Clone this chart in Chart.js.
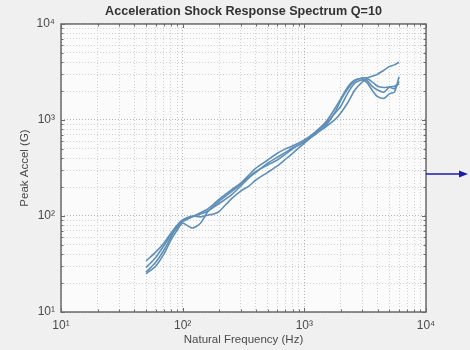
<!DOCTYPE html>
<html>
<head>
<meta charset="utf-8">
<script src="https://cdn.jsdelivr.net/npm/chart.js@4.4.1/dist/chart.umd.min.js"></script>
<style>
  html, body { margin: 0; padding: 0; background: #f0f0f0; }
</style>
</head>
<body>
<canvas id="myChart" width="470" height="350"></canvas>
<script>
// natural frequencies (Hz)
const freqs = [50, 60, 70, 80, 90, 100, 120, 140, 160, 180, 200, 250, 300, 350, 400, 500, 600, 700, 800,
  1000, 1200, 1500, 1800, 2000, 2300, 2600, 3000, 3300, 3600, 4000, 4500, 5000, 5500, 6000];

// peak accel (G) for each record
const resp1 = [34, 42, 52, 66, 80, 91, 98, 105, 112, 124, 135, 165, 205, 250, 285, 355, 410, 460, 510,
  590, 690, 870, 1230, 1620, 2150, 2550, 2750, 2750, 2850, 3000, 3300, 3600, 3750, 4000];
const resp2 = [25, 30, 40, 56, 71, 84, 75, 84, 110, 127, 143, 178, 215, 255, 292, 340, 383, 440, 500,
  600, 720, 910, 1190, 1400, 1950, 2420, 2610, 2420, 2050, 1750, 1680, 1870, 1950, 2820];
const resp3 = [26, 33, 44, 60, 78, 91, 100, 98, 102, 105, 112, 150, 182, 205, 237, 285, 332, 390, 450,
  575, 700, 850, 1020, 1190, 1550, 2050, 2500, 2680, 2500, 2250, 2180, 2200, 2120, 2500];
const resp4 = [29, 37, 49, 63, 75, 87, 98, 108, 118, 133, 150, 186, 220, 267, 315, 383, 450, 500, 535,
  620, 730, 950, 1340, 1680, 2250, 2610, 2680, 2550, 2250, 2050, 1950, 2200, 2250, 2380];

const sup = {1: '\u00b9', 2: '\u00b2', 3: '\u00b3', 4: '\u2074'};
const isPow10 = v => Math.abs(Math.log10(v) - Math.round(Math.log10(v))) < 1e-9;

const logTicks = (scale) => {
  const t = [];
  for (let e = 1; e < 4; e++) {
    for (let m = 1; m < 10; m++) t.push({value: m * Math.pow(10, e)});
  }
  t.push({value: 10000});
  scale.ticks = t;
};

const lineColor = '#5f8fb6';
const mkSet = (vals) => ({
  data: freqs.map((f, i) => ({x: f, y: vals[i]})),
  borderColor: lineColor,
  borderWidth: 1.6,
  pointRadius: 0,
  tension: 0.25,
  fill: false
});

const bgPlugin = {
  id: 'bg',
  beforeDraw(chart) {
    const {ctx, chartArea: a} = chart;
    ctx.save();
    ctx.fillStyle = '#f0f0f0';
    ctx.fillRect(0, 0, chart.width, chart.height);
    ctx.fillStyle = '#fbfbfb';
    ctx.fillRect(a.left, a.top, a.right - a.left, a.bottom - a.top);
    ctx.restore();
  },
  afterDraw(chart) {
    const {ctx, chartArea: a, scales} = chart;
    ctx.save();
    ctx.strokeStyle = '#6a6a6a';
    ctx.lineWidth = 1.5;
    ctx.strokeRect(a.left, a.top, a.right - a.left, a.bottom - a.top);
    // inner tick marks
    ctx.lineWidth = 1;
    ctx.beginPath();
    scales.x.ticks.forEach(t => {
      const px = Math.round(scales.x.getPixelForValue(t.value)) + 0.5;
      const len = isPow10(t.value) ? 4 : 2.5;
      ctx.moveTo(px, a.bottom); ctx.lineTo(px, a.bottom - len);
      ctx.moveTo(px, a.top); ctx.lineTo(px, a.top + len);
    });
    scales.y.ticks.forEach(t => {
      const py = Math.round(scales.y.getPixelForValue(t.value)) + 0.5;
      const len = isPow10(t.value) ? 4 : 2.5;
      ctx.moveTo(a.left, py); ctx.lineTo(a.left + len, py);
      ctx.moveTo(a.right, py); ctx.lineTo(a.right - len, py);
    });
    ctx.stroke();
    // arrow
    const y = 174;
    ctx.strokeStyle = '#1c1ca8';
    ctx.fillStyle = '#1c1ca8';
    ctx.lineWidth = 1.3;
    ctx.beginPath();
    ctx.moveTo(a.right, y);
    ctx.lineTo(a.right + 34, y);
    ctx.stroke();
    ctx.beginPath();
    ctx.moveTo(a.right + 33, y - 3.5);
    ctx.lineTo(a.right + 42, y);
    ctx.lineTo(a.right + 33, y + 3.5);
    ctx.closePath();
    ctx.fill();
    ctx.restore();
  }
};

const gridColor = c => (c.tick && isPow10(c.tick.value)) ? '#b4b4b4' : '#d2d2d2';
const tickCb = v => isPow10(v) ? '10' + sup[Math.round(Math.log10(v))] : '';
const font = {family: "'Liberation Sans', Arial, sans-serif", size: 11.5};

const ctx = document.getElementById('myChart').getContext('2d');
new Chart(ctx, {
  type: 'line',
  data: {datasets: [mkSet(resp1), mkSet(resp2), mkSet(resp3), mkSet(resp4)]},
  plugins: [bgPlugin],
  options: {
    responsive: false,
    animation: false,
    devicePixelRatio: 1,
    layout: {padding: {left: 0, right: 44, top: 0, bottom: 0}},
    scales: {
      x: {
        type: 'logarithmic',
        min: 10, max: 10000,
        afterBuildTicks: logTicks,
        afterFit: s => { s.height = 38; },
        grid: {color: gridColor, drawTicks: false, lineWidth: 1},
        border: {display: false, dash: [1, 2]},
        ticks: {callback: tickCb, autoSkip: false, maxRotation: 0, padding: 6, color: '#4a4a4a', font: {family: font.family, size: 12}},
        title: {display: true, text: 'Natural Frequency (Hz)', color: '#4a4a4a', font: font, padding: {top: 0, bottom: 3}}
      },
      y: {
        type: 'logarithmic',
        min: 10, max: 10000,
        afterBuildTicks: logTicks,
        afterFit: s => { s.width = 61; },
        grid: {color: gridColor, drawTicks: false, lineWidth: 1},
        border: {display: false, dash: [1, 2]},
        ticks: {callback: tickCb, autoSkip: false, padding: 6, color: '#4a4a4a', font: {family: font.family, size: 12}},
        title: {display: true, text: 'Peak Accel (G)', color: '#4a4a4a', font: font, padding: {top: 18, bottom: 0}}
      }
    },
    plugins: {
      legend: {display: false},
      tooltip: {enabled: false},
      title: {
        display: true,
        fullSize: false,
        text: 'Acceleration Shock Response Spectrum Q=10',
        color: '#333333',
        font: {family: "'Liberation Sans', Arial, sans-serif", size: 12.6, weight: 'bold', lineHeight: 1.11},
        padding: {top: 5, bottom: 5}
      }
    }
  }
});
</script>
</body>
</html>
